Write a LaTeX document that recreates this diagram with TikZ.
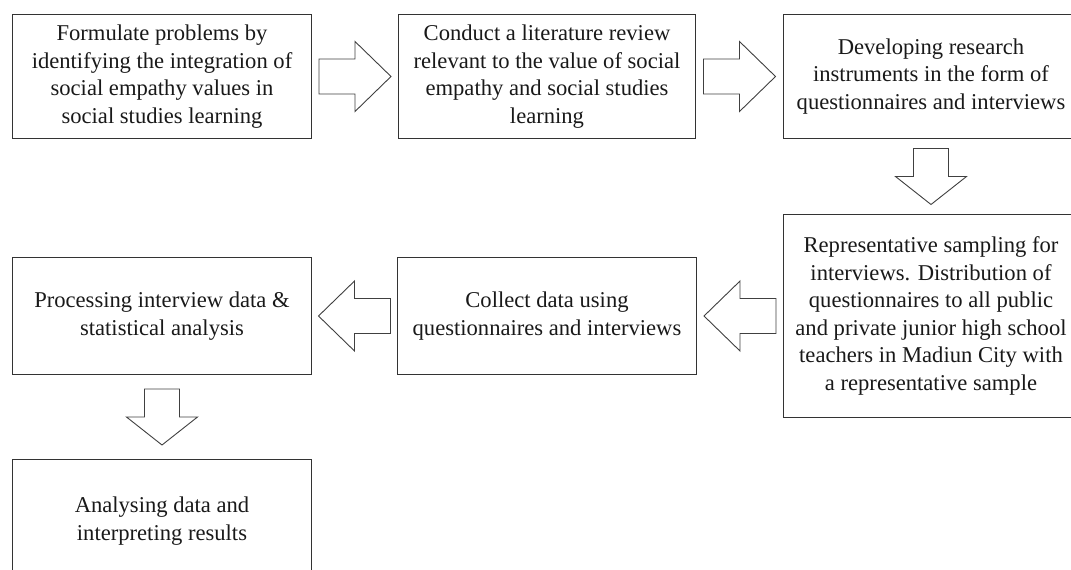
\documentclass[tikz,border=0pt]{standalone}
\usepackage{fontspec}
\setmainfont{Liberation Serif}
\usetikzlibrary{calc}
\begin{document}
\begin{tikzpicture}[x=1pt,y=-1pt,
  box/.style={draw=black!80, line width=1pt, anchor=north west, align=center,
    inner sep=0pt, font=\fontsize{22.6}{27.5}\selectfont, text=black!90},
  barrow/.style={draw=black!75, line width=0.9pt, fill=white, line join=miter}]
\useasboundingbox (0,0) rectangle (1071,570);
\clip (0,0) rectangle (1071,570);
\node[box, minimum width=299, minimum height=124] (b1) at (12,14)
  {Formulate problems by\\identifying the integration of\\social empathy values in\\social studies learning};
\node[box, minimum width=297, minimum height=124] (b2) at (398,14)
  {Conduct a literature review\\relevant to the value of social\\empathy and social studies\\learning};
\node[box, minimum width=295, minimum height=124] (b3) at (783,14)
  {Developing research\\instruments in the form of\\questionnaires and interviews};
\node[box, minimum width=295, minimum height=203] (b4) at (783,214)
  {Representative sampling for\\interviews. Distribution of\\questionnaires to all public\\and private junior high school\\teachers in Madiun City with\\a representative sample};
\node[box, minimum width=299, minimum height=117] (b5) at (397,257)
  {Collect data using\\questionnaires and interviews};
\node[box, minimum width=299, minimum height=117] (b6) at (12,257)
  {Processing interview data \&\\statistical analysis};
\node[box, minimum width=299, minimum height=123] (b7) at (12,459)
  {Analysing data and\\interpreting results};
% right block arrows
\draw[barrow] let \p1=($(b1.east)!0.5!(b2.west)$) in
  (\x1-36pt,\y1+17.5pt) -- (\x1,\y1+17.5pt) -- (\x1,\y1+35pt) -- (\x1+36pt,\y1)
  -- (\x1,\y1-35pt) -- (\x1,\y1-17.5pt) -- (\x1-36pt,\y1-17.5pt) -- cycle;
\draw[barrow] let \p1=($(b2.east)!0.5!(b3.west)$) in
  (\x1-36pt,\y1+17.5pt) -- (\x1,\y1+17.5pt) -- (\x1,\y1+35pt) -- (\x1+36pt,\y1)
  -- (\x1,\y1-35pt) -- (\x1,\y1-17.5pt) -- (\x1-36pt,\y1-17.5pt) -- cycle;
% down block arrows
\draw[barrow] let \p1=($(b3.south)!0.5!(b4.north)$) in
  (\x1-17.5pt,\y1+28pt) -- (\x1-17.5pt,\y1) -- (\x1-35.5pt,\y1) -- (\x1,\y1-28pt)
  -- (\x1+35.5pt,\y1) -- (\x1+17.5pt,\y1) -- (\x1+17.5pt,\y1+28pt) -- cycle;
\draw[barrow] let \p1=($(b6.south)!0.5!(b7.north)$) in
  (\x1-17.5pt,\y1+28pt) -- (\x1-17.5pt,\y1) -- (\x1-35.5pt,\y1) -- (\x1,\y1-28pt)
  -- (\x1+35.5pt,\y1) -- (\x1+17.5pt,\y1) -- (\x1+17.5pt,\y1+28pt) -- cycle;
% left block arrows
\draw[barrow] let \p1=($(b4.west)!0.5!(b5.east)$) in
  (\x1+36pt,\y1+17.5pt) -- (\x1,\y1+17.5pt) -- (\x1,\y1+35pt) -- (\x1-36pt,\y1)
  -- (\x1,\y1-35pt) -- (\x1,\y1-17.5pt) -- (\x1+36pt,\y1-17.5pt) -- cycle;
\draw[barrow] let \p1=($(b5.west)!0.5!(b6.east)$) in
  (\x1+36pt,\y1+17.5pt) -- (\x1,\y1+17.5pt) -- (\x1,\y1+35pt) -- (\x1-36pt,\y1)
  -- (\x1,\y1-35pt) -- (\x1,\y1-17.5pt) -- (\x1+36pt,\y1-17.5pt) -- cycle;
\end{tikzpicture}
\end{document}
